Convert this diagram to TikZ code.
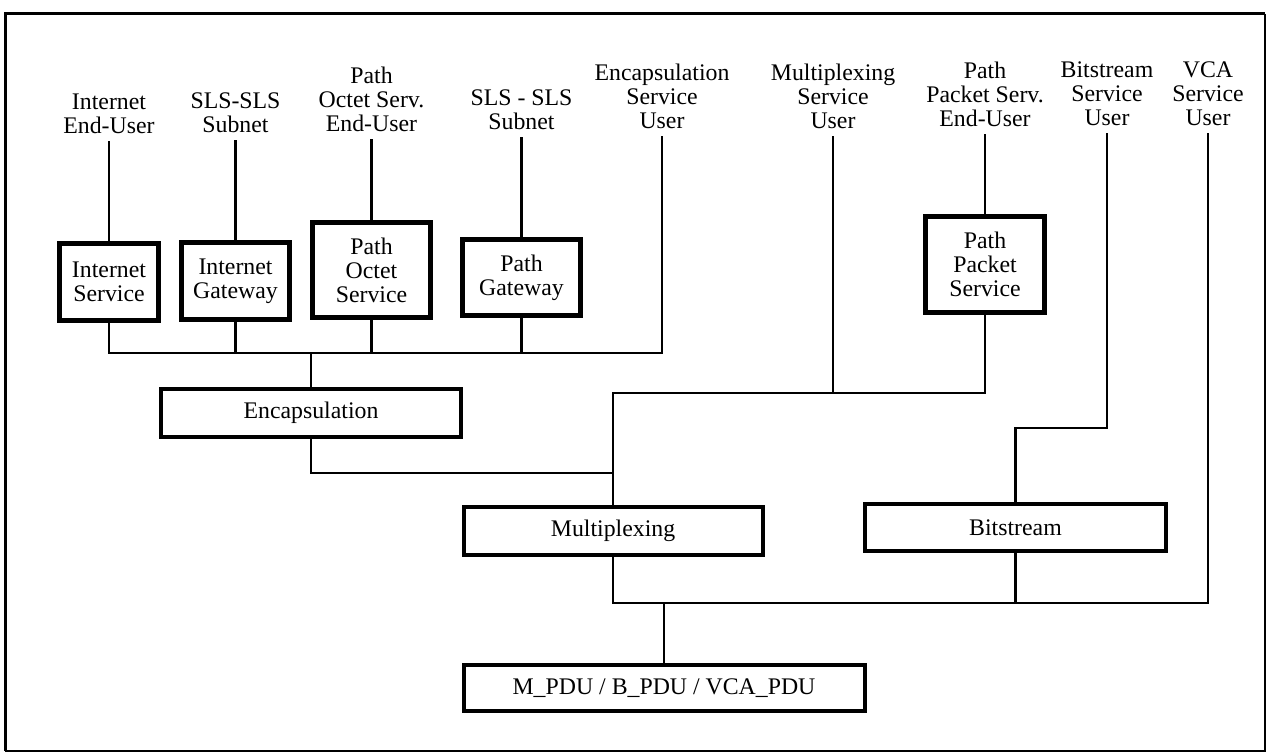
\documentclass[tikz,border=0pt]{standalone}
\usepackage{fontspec}
\setmainfont{Liberation Serif}
\begin{document}
\begin{tikzpicture}[x=1pt,y=-1pt,
  every node/.style={font=\fontsize{23.8}{24}\selectfont, align=center},
  userlabel/.style={anchor=south, inner sep=0pt, outer ysep=8.5pt},
  svcbox/.style={draw, line width=4.5pt, inner sep=0pt},
  layerbox/.style={draw, line width=4pt, inner sep=0pt},
  link/.style={line width=2.8pt, line cap=rect}]
\useasboundingbox (0,0) rectangle (1267,754);

% outer frame
\draw[line width=3pt] (5,751) -- (5,14) -- (1265,14);
\draw[line width=2.2pt] (1265,14) -- (1265,751) -- (5,751);

% service boxes (top row)
\node[svcbox, minimum width=99, minimum height=77] (isvc)  at (109,282)   {Internet\\Service};
\node[svcbox, minimum width=108, minimum height=77] (igw)  at (235.5,281) {Internet\\Gateway};
\node[svcbox, minimum width=118, minimum height=95] (posvc) at (371.5,270) {Path\\Octet\\Service};
\node[svcbox, minimum width=118, minimum height=76] (pgw)   at (521.5,277.5) {Path\\Gateway};
\node[svcbox, minimum width=119, minimum height=96] (ppsvc) at (985,264.5) {Path\\Packet\\Service};

% layer boxes
\node[layerbox, minimum width=300, minimum height=48] (encap) at (311,413)    {Encapsulation};
\node[layerbox, minimum width=299, minimum height=48] (mux)   at (613,531)    {Multiplexing};
\node[layerbox, minimum width=301, minimum height=47] (bits)  at (1015.5,527.5) {Bitstream};
\node[layerbox, minimum width=401, minimum height=46] (pdu)   at (664,688)    {M\_PDU / B\_PDU / VCA\_PDU};

% service user labels
\node[userlabel] (uinet)  at (109,142)   {Internet\\End-User};
\node[userlabel] (usls1)  at (235.5,141) {SLS-SLS\\Subnet};
\node[userlabel] (uoct)   at (371.5,140) {Path\\Octet Serv.\\End-User};
\node[userlabel] (usls2)  at (521.5,138) {SLS - SLS\\Subnet};
\node[userlabel] (uencap) at (662,137)   {Encapsulation\\Service\\User};
\node[userlabel] (umux)   at (833,137)   {Multiplexing\\Service\\User};
\node[userlabel] (upkt)   at (985,135)   {Path\\Packet Serv.\\End-User};
\node[userlabel] (ubits)  at (1107,134)  {Bitstream\\Service\\User};
\node[userlabel] (uvca)   at (1208,134)  {VCA\\Service\\User};

% junction points
\coordinate (busL) at (109,353);
\coordinate (busR) at (662,353);
\coordinate (encJ) at (613,473);
\coordinate (muxL) at (613,393);
\coordinate (muxM) at (833,393);
\coordinate (muxR) at (985,393);
\coordinate (bitR) at (1107,428);
\coordinate (bitL) at (1015.5,428);
\coordinate (lowL) at (613,603);
\coordinate (lowR) at (1208,603);

% users to services
\draw[link] (uinet.south) -- (isvc.north);
\draw[link] (usls1.south) -- (igw.north);
\draw[link] (uoct.south)  -- (posvc.north);
\draw[link] (usls2.south) -- (pgw.north);
\draw[link] (upkt.south)  -- (ppsvc.north);

% services into encapsulation
\draw[link] (isvc.south) -- (busL) -- (busR) -- (uencap.south);
\draw[link] (igw.south)   -- (igw.south |- busL);
\draw[link] (posvc.south) -- (posvc.south |- busL);
\draw[link] (pgw.south)   -- (pgw.south |- busL);
\draw[link] (encap.north) -- (encap.north |- busL);

% into multiplexing
\draw[link] (encap.south) |- (encJ);
\draw[link] (umux.south) -- (muxM) -- (muxL) -- (mux.north);
\draw[link] (ppsvc.south) -- (muxR) -- (muxM);

% into bitstream
\draw[link] (ubits.south) -- (bitR) -- (bitL) -- (bits.north);

% into the transfer frame data units
\draw[link] (mux.south) -- (lowL) -- (lowR) -- (uvca.south);
\draw[link] (bits.south) -- (bits.south |- lowL);
\draw[link] (pdu.north)  -- (pdu.north |- lowL);
\end{tikzpicture}
\end{document}
